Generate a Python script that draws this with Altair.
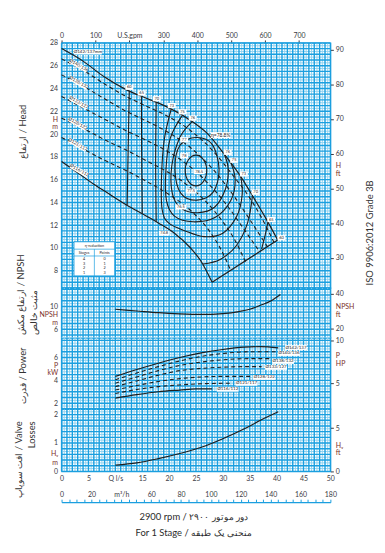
import altair as alt
import pandas as pd

# ------------------------------------------------------------------ values
# Head H (m) over flow Q (l/s), one curve per impeller diameter
H142_Q = [0, 4, 8, 12, 16, 20, 24, 27, 30, 33, 36, 38, 40.2]
H142_H = [27.5, 26.4, 25.0, 23.9, 23.1, 22.3, 21.2, 20.1, 18.4, 16.5, 14.2, 12.6, 10.7]
H140_Q = [0, 4, 8, 12, 16, 20, 24, 28, 32, 35, 37.5, 39.5]
H140_H = [26.6, 25.6, 24.4, 23.3, 22.4, 21.5, 20.3, 18.6, 16.3, 14.4, 12.4, 10.5]
H138_Q = [0, 4, 8, 12, 16, 20, 24, 28, 32, 35, 38.3]
H138_H = [25.2, 24.2, 23.1, 22.0, 21.1, 20.1, 18.8, 17.0, 14.6, 12.5, 10.1]
H133_Q = [0, 4, 8, 12, 16, 20, 24, 28, 31, 34, 36.8]
H133_H = [23.3, 22.3, 21.3, 20.3, 19.4, 18.4, 17.1, 15.3, 13.6, 11.6, 9.7]
H128_Q = [0, 4, 8, 12, 16, 20, 24, 27, 30, 32, 34.2]
H128_H = [21.4, 20.5, 19.5, 18.6, 17.6, 16.6, 15.3, 14.0, 12.3, 10.9, 8.8]
H121_Q = [0, 4, 8, 12, 16, 20, 24, 27, 29.5, 31.5]
H121_H = [19.7, 18.7, 17.7, 16.8, 15.8, 14.7, 13.3, 11.8, 10.0, 8.0]
H116_Q = [0, 3, 6, 9, 12, 15, 18, 21, 24, 26, 28]
H116_H = [17.6, 16.6, 15.6, 14.7, 13.8, 13.0, 12.2, 11.3, 10.0, 8.8, 7.0]
HEND_Q = [28, 40.2]
HEND_H = [7.0, 10.7]

# iso-efficiency lines (Q l/s, H m)
E60A_Q, E60A_H = [12.6, 12.4, 12.2], [23.8, 19.0, 13.75]
E65A_Q, E65A_H = [14.85, 14.9, 15.0], [23.3, 18.2, 13.0]
E65B_Q, E65B_H = [38.4, 37.8, 37.2], [12.3, 11.0, 9.9]
E70A_Q, E70A_H = [17.6, 17.5, 17.6], [22.8, 17.5, 12.3]
E70B_Q, E70B_H = [26.3, 29.5, 32.5, 34.6, 35.5], [8.6, 9.0, 10.2, 12.2, 14.6]
E73_Q = [20.4, 19.1, 18.6, 18.7, 19.9, 23.0, 26.5, 30.0, 32.6, 33.6, 33.3]
E73_H = [22.2, 19.5, 16.3, 13.4, 12.2, 11.5, 11.0, 11.3, 12.8, 14.7, 16.3]
E75_Q = [22.4, 20.2, 19.4, 19.5, 21.0, 24.5, 28.6, 31.5, 32.3, 31.5]
E75_H = [21.6, 19.6, 16.8, 14.2, 12.8, 12.3, 12.7, 14.2, 16.0, 17.45]
E76_Q = [24.3, 22.0, 20.5, 20.6, 22.2, 25.3, 28.5, 30.5, 31.0, 30.3]
E76_H = [21.1, 19.7, 17.2, 14.8, 13.5, 13.1, 13.6, 15.2, 16.9, 18.2]
E77_Q = [25.0, 28.0, 29.3, 28.2, 25.2, 22.2, 21.1, 22.0]
E77_H = [19.7, 19.1, 16.9, 14.9, 14.2, 14.8, 16.9, 19.0]
E78_Q = [25.0, 26.4, 27.0, 26.4, 25.0, 23.6, 23.0, 23.6]
E78_H = [18.15, 17.75, 16.8, 15.85, 15.45, 15.85, 16.8, 17.75]

# efficiency captions
EFF_S_TXT = ["60", "65", "70", "73", "75", "76", "76", "75", "73", "70", "65", "60", "77", "78"]
EFF_S_Q = [12.6, 14.9, 17.7, 20.5, 22.5, 24.4, 30.9, 32.1, 33.9, 36.1, 39.0, 40.9, 22.8, 22.8]
EFF_S_H = [24.1, 23.6, 23.1, 22.5, 21.95, 21.4, 18.4, 17.7, 16.5, 14.9, 12.5, 10.9, 19.5, 18.1]
EFF_L_TXT = ["78.5", "77.5", "76.5", "74.8"]
EFF_L_Q = [25.6, 24.1, 22.2, 19.1]
EFF_L_H = [16.7, 15.0, 13.6, 11.3]
ETA_TXT, ETA_Q, ETA_H = ["η=78.8%"], [29.6], [19.9]

# diameter captions on the head curves
DIA_TXT = ["Ø140/136", "Ø138/132", "Ø133/127", "Ø128/122", "Ø121/117", "Ø116/112"]
DIA_Q = [3.2, 3.2, 3.2, 3.0, 3.0, 3.3]
DIA_H = [26.0, 24.5, 22.75, 20.9, 19.05, 16.8]
DIA_TOP_TXT, DIA_TOP_Q, DIA_TOP_H = ["Ø142/137mm"], [4.9], [27.2]

# NPSH (m)
NPSH_Q = [10, 14, 18, 22, 26, 30, 33, 35, 37, 39, 40.7]
NPSH_M = [9.5, 9.2, 8.9, 8.7, 8.6, 8.75, 9.1, 9.5, 10.2, 11.0, 12.1]

# Power (kW)
P142_Q, P142_P = [10, 14, 18, 22, 26, 30, 34, 37, 40.3], [4.35, 4.95, 5.5, 6.0, 6.4, 6.7, 6.9, 6.95, 6.85]
P140_Q, P140_P = [10, 14, 18, 22, 26, 30, 35, 40], [4.05, 4.65, 5.2, 5.7, 6.1, 6.35, 6.5, 6.5]
P138_Q, P138_P = [10, 14, 18, 22, 26, 30, 35, 38.8], [3.75, 4.3, 4.85, 5.3, 5.6, 5.8, 5.9, 5.9]
P133_Q, P133_P = [10, 14, 18, 22, 26, 30, 34, 37.2], [3.45, 3.95, 4.45, 4.85, 5.05, 5.15, 5.2, 5.2]
P128_Q, P128_P = [10, 14, 18, 22, 26, 30, 35.3], [3.15, 3.55, 3.9, 4.15, 4.3, 4.35, 4.35]
P121_Q, P121_P = [10, 14, 18, 22, 26, 31.6], [2.85, 3.2, 3.45, 3.6, 3.7, 3.75]
P116_Q, P116_P = [10, 14, 18, 22, 25, 28], [2.45, 2.75, 3.0, 3.15, 3.25, 3.25]
PL_TXT = ["Ø142/137", "Ø140/136", "Ø138/132", "Ø133/127", "Ø128/122", "Ø121/117", "Ø116/112"]
PL_Q = [43.6, 42.3, 41.2, 39.9, 37.7, 34.4, 30.9]
PL_P = [6.87, 6.35, 5.65, 5.13, 4.26, 3.74, 3.22]

# Valve losses Hv (m)
HV_Q = [10, 14, 18, 22, 26, 30, 34, 37, 40.3]
HV_M = [0.22, 0.3, 0.45, 0.63, 0.85, 1.15, 1.5, 1.8, 2.1]

# η-reduction table
ETA_TABLE_TITLE = "η-reduction"
ETA_HEADERS = ["Stages", "Points"]
ETA_STAGES = ["4", "3", "2", "1"]
ETA_POINTS = ["0", "1", "2", "3"]

# tick labels
HEAD_TICKS = [28, 26, 24, 22, 20, 18, 16, 14, 12, 10, 8]
HEAD_FT_TICKS = [90, 80, 70, 60, 50, 40, 30]
NPSH_TICKS = [10, 6]
NPSH_FT_TICKS = [40, 20]
P_TICKS = [6, 4, 2]
P_HP_TICKS = [10, 5]
HV_TICKS = [2, 1, 0]
HV_FT_TICKS = [5, 0]
Q_TICKS = [0, 5, 10, 15, 20, 25, 30, 35, 40, 45, 50]
GPM_TICKS = [0, 100, 200, 300, 400, 500, 600, 700]
M3H_TICKS = [5 * k for k in range(37)]

# unit captions sitting between the tick labels
HEAD_UNITS = [(21.3, "H"), (20.7, "m")]
HEAD_FT_UNITS = [(56.7, "H"), (54.4, "ft")]
NPSH_UNITS = [(8.6, "NPSH"), (7.2, "m")]
NPSH_FT_UNITS = [(32.6, "NPSH"), (28.0, "ft")]
P_UNITS = [(5.3, "P"), (4.7, "kW")]
P_HP_UNITS = [(8.25, "P"), (7.3, "HP")]
HV_UNITS = [(0.63, "Hᵥ"), (0.32, "m")]
HV_FT_UNITS = [(3.0, "Hᵥ"), (2.2, "ft")]

# ------------------------------------------------------------------ layout / style
FONT = "Lato"
BLUE = "#1b9fdf"
BLUE_LT = "#92d2f0"
INK = "#1e1e1e"
LBL = "#3b3b44"
UNIT = "#7b2f2a"
W = 271
HT_HEAD, HT_NPSH, HT_P, HT_HV = 247, 50, 72, 63
DOM_Q = [0, 50]
DOM_H = [6.5, 28]
DOM_N = [4.55, 13.25]
DOM_P = [1.5, 7.75]
DOM_V = [0, 2.2]
M_FT = 3.28084
KW_HP = 1 / 0.7457
TBL = dict(q0=2.3, q1=9.9, h0=10.55, h1=7.55, h_title=10.22, h_r1=9.9, h_head=9.6,
           h_r2=9.3, q_mid=6.1, q_c1=4.2, q_c2=8.0, h_row0=9.05, step=0.42)

BOX_S = "M-1,-0.65L1,-0.65L1,0.65L-1,0.65Z"
BOX_L = "M-1,-0.45L1,-0.45L1,0.45L-1,0.45Z"
BOX_ETA = "M-1,-0.3L1,-0.3L1,0.3L-1,0.3Z"
BOX_DIA = "M-1,-0.25L1,-0.25L1,0.25L-1,0.25Z"
BOX_TOP = "M-1,-0.18L1,-0.18L1,0.18L-1,0.18Z"
BOX_P = "M-1,-0.22L1,-0.22L1,0.22L-1,0.22Z"


def sc(d):
    return alt.Scale(domain=d, nice=False, zero=False)


def xq(axis=None):
    return alt.X("Q:Q", scale=sc(DOM_Q), axis=axis)


def yv(field, dom, axis):
    return alt.Y(f"{field}:Q", scale=sc(dom), axis=axis)


def unit_expr(units):
    e = ""
    for v, t in units:
        e += f"datum.value == {v} ? '{t}' : "
    return e + "format(datum.value, 'd')"


def unit_test(units):
    return "indexof([" + ",".join(str(v) for v, _ in units) + "], datum.value) >= 0"


def y_left(ticks, units, title, tx, ty, align):
    return alt.Axis(
        orient="left", values=ticks + [v for v, _ in units], labelExpr=unit_expr(units),
        labelColor={"condition": {"test": unit_test(units), "value": UNIT}, "value": LBL},
        labelFont=FONT, labelFontSize=7, labelPadding=4, ticks=False, domain=False,
        grid=False, labelOverlap=False, title=title, titleFont=FONT, titleFontSize=9.5,
        titleFontWeight="normal", titleColor="#333333", titleAngle=270, titleX=tx,
        titleY=ty, titleAlign=align, titleBaseline="top", titleLineHeight=13)


def y_right(ticks, units, title="", tx=0, ty=0):
    return alt.Axis(
        orient="right", values=ticks + [v for v, _ in units], labelExpr=unit_expr(units),
        labelColor={"condition": {"test": unit_test(units), "value": UNIT}, "value": LBL},
        tickOpacity={"condition": {"test": unit_test(units), "value": 0}, "value": 1},
        labelFont=FONT, labelFontSize=7, labelPadding=2, tickSize=3, tickColor=LBL,
        domain=False, grid=False, labelOverlap=False, title=title, titleFont=FONT,
        titleFontSize=9.5, titleFontWeight="normal", titleColor="#333333", titleAngle=270,
        titleX=tx, titleY=ty, titleAlign="center", titleBaseline="top")


AX_HEAD = y_left(HEAD_TICKS, HEAD_UNITS, "ارتفاع / Head", -44, 89, "center")
AX_NPSH = y_left(NPSH_TICKS, NPSH_UNITS, ["ارتفاع مکش / NPSH", "مثبت خالص"], -46, 47, "left")
AX_P = y_left(P_TICKS, P_UNITS, "قدرت / Power", -44, 38, "center")
AX_HV = y_left(HV_TICKS, HV_UNITS, ["افت سوپاپ / Valve", "Losses"], -48, 12, "right")
AX_HEAD_R = y_right(HEAD_FT_TICKS, HEAD_FT_UNITS, "ISO 9906:2012 Grade 3B", 34, 191)
AX_NPSH_R = y_right(NPSH_FT_TICKS, NPSH_FT_UNITS)
AX_P_R = y_right(P_HP_TICKS, P_HP_UNITS)
AX_HV_R = y_right(HV_FT_TICKS, HV_FT_UNITS)

X_COMMON = dict(labelFont=FONT, labelFontSize=7, labelColor=LBL, grid=False,
                labelFlush=False, labelOverlap=False, title="")
AX_GPM = alt.Axis(orient="top", values=GPM_TICKS, labelExpr=unit_expr([(200, "U.S.gpm")]),
                  labelPadding=1, tickSize=3, tickColor=LBL, domain=False, **X_COMMON)
AX_Q = alt.Axis(orient="bottom", values=Q_TICKS, labelExpr=unit_expr([(10, "Q l/s")]),
                labelPadding=3, ticks=False, domain=False, **X_COMMON)
AX_M3H = alt.Axis(orient="top", offset=-(HT_HV + 31), values=M3H_TICKS,
                  labelExpr="datum.value == 40 ? 'm³/h' : (datum.value % 20 == 0 ? format(datum.value, 'd') : '')",
                  labelPadding=2, tickSize=3, tickColor=BLUE, domain=True, domainColor=BLUE,
                  domainWidth=1.2, **X_COMMON)


def frame(name, qs, vs, field):
    return pd.DataFrame({"Q": qs, field: vs, "s": name, "i": list(range(len(qs)))})


def grid(field, dom, axis, xaxis, major, minor):
    lo, hi = dom
    major = [v for v in major if lo - 1e-9 <= v <= hi + 1e-9]
    minor = [v for v in minor if lo - 1e-9 <= v <= hi + 1e-9]
    q_major = list(range(0, 51))
    q_minor = [k + 0.5 for k in range(50)]
    return [
        alt.Chart(pd.DataFrame({field: minor})).mark_rule(color=BLUE_LT, strokeWidth=1).encode(
            y=yv(field, dom, axis)),
        alt.Chart(pd.DataFrame({"Q": q_minor})).mark_rule(color=BLUE_LT, strokeWidth=1).encode(
            x=xq(xaxis)),
        alt.Chart(pd.DataFrame({field: major})).mark_rule(color=BLUE, strokeWidth=1.4).encode(
            y=yv(field, dom, axis)),
        alt.Chart(pd.DataFrame({"Q": q_major})).mark_rule(color=BLUE, strokeWidth=1.4).encode(
            x=xq(xaxis)),
    ]


def boxes(df, field, dom, axis, shape, size, angle=0, xaxis=None):
    return alt.Chart(df).mark_point(shape=shape, size=size, filled=True, color="white",
                                    opacity=1, strokeWidth=0, angle=angle).encode(
        x=xq(xaxis), y=yv(field, dom, axis))


def texts(df, field, dom, axis, size, angle=0, xaxis=None, **kw):
    return alt.Chart(df).mark_text(font=FONT, fontSize=size, color=INK, angle=angle, **kw).encode(
        x=xq(xaxis), y=yv(field, dom, axis), text="t:N")


def lab(txt, qs, vs, field):
    return pd.DataFrame({"t": txt, "Q": qs, field: vs})


# ------------------------------------------------------------------ head panel
hd = dict(field="H", dom=DOM_H, axis=AX_HEAD)
head_solid = pd.concat([frame("142", H142_Q, H142_H, "H"), frame("116", H116_Q, H116_H, "H"),
                        frame("end", HEND_Q, HEND_H, "H")])
head_dash = pd.concat([frame("140", H140_Q, H140_H, "H"), frame("138", H138_Q, H138_H, "H"),
                       frame("133", H133_Q, H133_H, "H"), frame("128", H128_Q, H128_H, "H"),
                       frame("121", H121_Q, H121_H, "H")])
eff_open = pd.concat([frame("60a", E60A_Q, E60A_H, "H"), frame("65a", E65A_Q, E65A_H, "H"),
                      frame("65b", E65B_Q, E65B_H, "H"), frame("70a", E70A_Q, E70A_H, "H"),
                      frame("70b", E70B_Q, E70B_H, "H"), frame("73", E73_Q, E73_H, "H"),
                      frame("75", E75_Q, E75_H, "H"), frame("76", E76_Q, E76_H, "H")])
eff_closed = pd.concat([frame("77", E77_Q, E77_H, "H"), frame("78", E78_Q, E78_H, "H")])


def hline(df, **kw):
    return alt.Chart(df).mark_line(color=INK, **kw).encode(
        x=xq(), y=yv("H", DOM_H, AX_HEAD), detail="s:N", order="i:Q")


tbl_box = pd.DataFrame({"Q": [TBL["q0"]], "Q2": [TBL["q1"]], "H": [TBL["h0"]], "H2": [TBL["h1"]]})
tbl_hr = pd.DataFrame({"Q": [TBL["q0"]] * 2, "Q2": [TBL["q1"]] * 2, "H": [TBL["h_r1"], TBL["h_r2"]]})
tbl_vr = pd.DataFrame({"Q": [TBL["q_mid"]], "H": [TBL["h_r1"]], "H2": [TBL["h1"]]})
rows_h = [TBL["h_row0"] - k * TBL["step"] for k in range(len(ETA_STAGES))]
tbl_txt = pd.DataFrame({
    "t": [ETA_TABLE_TITLE] + ETA_HEADERS + ETA_STAGES + ETA_POINTS,
    "Q": [TBL["q_mid"], TBL["q_c1"], TBL["q_c2"]] + [TBL["q_c1"]] * 4 + [TBL["q_c2"]] * 4,
    "H": [TBL["h_title"], TBL["h_head"], TBL["h_head"]] + rows_h + rows_h,
})

head_layers = grid("H", DOM_H, AX_HEAD, None,
                   [6.5 + 0.5 * k for k in range(44)], [6.75 + 0.5 * k for k in range(43)])
head_layers += [
    alt.Chart(tbl_box).mark_rect(fill="white", stroke=BLUE, strokeWidth=1).encode(
        x=xq(), x2=alt.X2("Q2:Q"), y=yv("H", DOM_H, AX_HEAD), y2=alt.Y2("H2:Q")),
    alt.Chart(tbl_hr).mark_rule(color=BLUE, strokeWidth=0.7).encode(
        x=xq(), x2=alt.X2("Q2:Q"), y=yv("H", DOM_H, AX_HEAD)),
    alt.Chart(tbl_vr).mark_rule(color=BLUE, strokeWidth=0.7).encode(
        x=xq(), y=yv("H", DOM_H, AX_HEAD), y2=alt.Y2("H2:Q")),
    texts(tbl_txt, **hd, size=3.8),
    hline(eff_open, strokeWidth=1.1, interpolate="cardinal"),
    hline(eff_closed, strokeWidth=1.1, interpolate="cardinal-closed"),
    alt.Chart(head_dash).mark_line(color=INK, strokeWidth=1.1, strokeDash=[4, 3],
                                   interpolate="monotone").encode(
        x=xq(), y=yv("H", DOM_H, AX_HEAD), detail="s:N"),
    alt.Chart(head_solid).mark_line(color=INK, strokeWidth=1.2, interpolate="monotone").encode(
        x=xq(), y=yv("H", DOM_H, AX_HEAD), detail="s:N"),
]
for txt, qs, hs, shape, size, fs, ang in [
    (EFF_S_TXT, EFF_S_Q, EFF_S_H, BOX_S, 64, 4, 0),
    (EFF_L_TXT, EFF_L_Q, EFF_L_H, BOX_L, 121, 4, 0),
    (ETA_TXT, ETA_Q, ETA_H, BOX_ETA, 400, 5, 0),
    (DIA_TXT, DIA_Q, DIA_H, BOX_DIA, 400, 4.5, 30),
    (DIA_TOP_TXT, DIA_TOP_Q, DIA_TOP_H, BOX_TOP, 784, 4.5, 0),
]:
    d = lab(txt, qs, hs, "H")
    head_layers.append(boxes(d, **hd, shape=shape, size=size, angle=ang))
    head_layers.append(texts(d, **hd, size=fs, angle=ang))

head = alt.layer(
    alt.layer(*head_layers),
    alt.Chart(pd.DataFrame({"ft": HEAD_FT_TICKS})).mark_point(opacity=0).encode(
        y=alt.Y("ft:Q", scale=sc([DOM_H[0] * M_FT, DOM_H[1] * M_FT]), axis=AX_HEAD_R)),
    alt.Chart(pd.DataFrame({"gpm": GPM_TICKS})).mark_point(opacity=0).encode(
        x=alt.X("gpm:Q", scale=sc([0, 50 * 15.8503]), axis=AX_GPM)),
).resolve_scale(x="independent", y="independent").properties(width=W, height=HT_HEAD)

# ------------------------------------------------------------------ NPSH panel
npsh_layers = grid("N", DOM_N, AX_NPSH, None, list(range(5, 14)), [k + 0.5 for k in range(4, 13)])
npsh_layers.append(alt.Chart(frame("npsh", NPSH_Q, NPSH_M, "N")).mark_line(
    color=INK, strokeWidth=1.2, interpolate="monotone").encode(x=xq(), y=yv("N", DOM_N, AX_NPSH)))
npsh = alt.layer(
    alt.layer(*npsh_layers),
    alt.Chart(pd.DataFrame({"ft": NPSH_FT_TICKS})).mark_point(opacity=0).encode(
        y=alt.Y("ft:Q", scale=sc([DOM_N[0] * M_FT, DOM_N[1] * M_FT]), axis=AX_NPSH_R)),
).resolve_scale(x="independent", y="independent").properties(width=W, height=HT_NPSH)

# ------------------------------------------------------------------ power panel
pw = dict(field="P", dom=DOM_P, axis=AX_P)
p_solid = pd.concat([frame("142", P142_Q, P142_P, "P"), frame("116", P116_Q, P116_P, "P")])
p_dash = pd.concat([frame("140", P140_Q, P140_P, "P"), frame("138", P138_Q, P138_P, "P"),
                    frame("133", P133_Q, P133_P, "P"), frame("128", P128_Q, P128_P, "P"),
                    frame("121", P121_Q, P121_P, "P")])
p_layers = grid("P", DOM_P, AX_P, None, [1.5 + 0.5 * k for k in range(13)],
                [1.75 + 0.5 * k for k in range(13)])
p_layers += [
    alt.Chart(p_dash).mark_line(color=INK, strokeWidth=1.1, strokeDash=[4, 3],
                                interpolate="monotone").encode(x=xq(), y=yv("P", DOM_P, AX_P), detail="s:N"),
    alt.Chart(p_solid).mark_line(color=INK, strokeWidth=1.2, interpolate="monotone").encode(
        x=xq(), y=yv("P", DOM_P, AX_P), detail="s:N"),
]
pl = lab(PL_TXT, PL_Q, PL_P, "P")
p_layers += [boxes(pl, **pw, shape=BOX_P, size=484), texts(pl, **pw, size=4.5)]
power = alt.layer(
    alt.layer(*p_layers),
    alt.Chart(pd.DataFrame({"hp": P_HP_TICKS})).mark_point(opacity=0).encode(
        y=alt.Y("hp:Q", scale=sc([DOM_P[0] * KW_HP, DOM_P[1] * KW_HP]), axis=AX_P_R)),
).resolve_scale(x="independent", y="independent").properties(width=W, height=HT_P)

# ------------------------------------------------------------------ valve-loss panel
hv_layers = grid("V", DOM_V, AX_HV, AX_Q, [0.2 * k for k in range(12)],
                 [0.1 + 0.2 * k for k in range(11)])
hv_layers.append(alt.Chart(frame("hv", HV_Q, HV_M, "V")).mark_line(
    color=INK, strokeWidth=1.2, interpolate="monotone").encode(x=xq(AX_Q), y=yv("V", DOM_V, AX_HV)))
hv = alt.layer(
    alt.layer(*hv_layers),
    alt.Chart(pd.DataFrame({"ft": HV_FT_TICKS})).mark_point(opacity=0).encode(
        y=alt.Y("ft:Q", scale=sc([DOM_V[0] * M_FT, DOM_V[1] * M_FT]), axis=AX_HV_R)),
    alt.Chart(pd.DataFrame({"m3h": M3H_TICKS})).mark_point(opacity=0).encode(
        x=alt.X("m3h:Q", scale=sc([0, 50 * 3.6]), axis=AX_M3H)),
).resolve_scale(x="independent", y="independent").properties(width=W, height=HT_HV)

chart = alt.vconcat(head, npsh, power, hv, spacing=0, bounds="flush").properties(
    padding={"left": 5, "top": 21, "right": 2, "bottom": 4},
    title=alt.TitleParams(
        text=["2900 rpm / دور موتور ۲۹۰۰", "For 1 Stage / منحنی یک طبقه"],
        orient="bottom", anchor="middle", font=FONT, fontSize=9.5, fontWeight="normal",
        color="#2b2b2b", lineHeight=16, offset=9),
).configure_view(stroke=BLUE, strokeWidth=1.2)

chart.save("out.html", embed_options={"renderer": "svg", "actions": False})
